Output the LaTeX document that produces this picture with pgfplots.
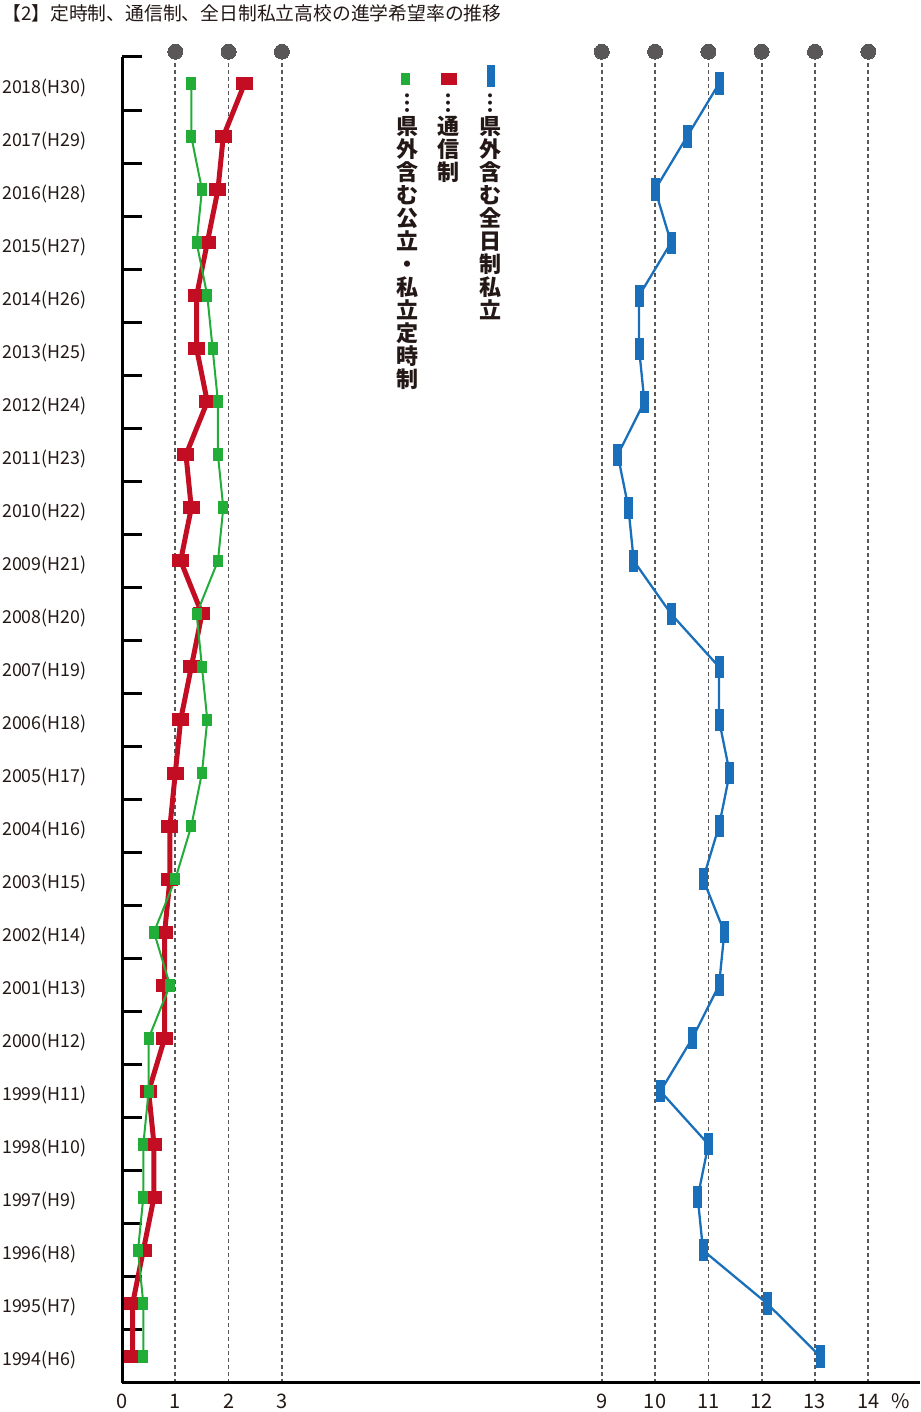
\documentclass[border=0pt]{standalone}
\usepackage{fontspec}
\setmainfont{Noto Sans CJK JP}
\usepackage{pgfplots}
\usepackage{pgfplotstable}
\pgfplotsset{compat=1.18}
\definecolor{cgreen}{HTML}{22AC38}
\definecolor{cred}{HTML}{C30D23}
\definecolor{cblue}{HTML}{1A6FBA}
\definecolor{cgray}{HTML}{595757}
\definecolor{ctext}{HTML}{231815}

\pgfplotstableread{
idx green red blue
0 0.4 0.2 13.1
1 0.4 0.2 12.1
2 0.3 0.4 10.9
3 0.4 0.6 10.8
4 0.4 0.6 11.0
5 0.5 0.5 10.1
6 0.5 0.8 10.7
7 0.9 0.8 11.2
8 0.6 0.8 11.3
9 1.0 0.9 10.9
10 1.3 0.9 11.2
11 1.5 1.0 11.4
12 1.6 1.1 11.2
13 1.5 1.3 11.2
14 1.4 1.5 10.3
15 1.8 1.1 9.6
16 1.9 1.3 9.5
17 1.8 1.2 9.3
18 1.8 1.6 9.8
19 1.7 1.4 9.7
20 1.6 1.4 9.7
21 1.4 1.6 10.3
22 1.5 1.8 10.0
23 1.3 1.9 10.6
24 1.3 2.3 11.2
}\datatable

\begin{document}
\begin{tikzpicture}
\useasboundingbox (0,0) rectangle (920pt,1412pt);
\begin{axis}[
  at={(122pt,29pt)}, anchor=south west,
  scale only axis, width=798pt, height=1326pt,
  xmin=0, xmax=14.97, ymin=-0.5, ymax=24.5,
  axis x line=bottom, axis y line=left,
  axis line style={-, line width=3pt, black},
  clip=false,
  tick align=inside,
  xtick={0,1,2,3,9,10,11,12,13,14},
  xticklabels={0,1,2,3,9,10,11,12,13,14},
  ytick={0,...,24},
  yticklabels={1994(H6),1995(H7),1996(H8),1997(H9),1998(H10),1999(H11),2000(H12),2001(H13),2002(H14),2003(H15),2004(H16),2005(H17),2006(H18),2007(H19),2008(H20),2009(H21),2010(H22),2011(H23),2012(H24),2013(H25),2014(H26),2015(H27),2016(H28),2017(H29),2018(H30)},
  minor ytick={0.5,1.5,...,24.5},
  major tick length=0pt,
  minor tick length=20pt,
  minor tick style={line width=3pt, black},
  xmajorgrids,
  major grid style={line width=1.7pt, cgray, dash pattern=on 4pt off 3pt},
  xticklabel style={font=\fontsize{20}{24}\selectfont, text=ctext, anchor=base, inner sep=0pt, yshift=-25pt},
  yticklabel style={font=\fontsize{17.8}{22}\selectfont, text=ctext, anchor=base west, inner sep=0pt, xshift=-120pt, yshift=-9.5pt},
]
\addplot[only marks, mark=*, mark size=7.5pt, cgray, mark options={draw=none, fill=cgray, line width=0pt}]
  coordinates {(1,24.6) (2,24.6) (3,24.6) (9,24.6) (10,24.6) (11,24.6) (12,24.6) (13,24.6) (14,24.6)};
\addplot[cblue, line width=2.3pt, line join=round, mark=square*, mark size=4pt,
  mark options={solid, draw=none, fill=cblue, line width=0pt, yscale=2.65}] table[x=blue, y=idx] {\datatable};
\addplot[cred, line width=5pt, line join=round, mark=square*, mark size=6pt,
  mark options={solid, draw=none, fill=cred, line width=0pt, xscale=1.33}] table[x=red, y=idx] {\datatable};
\addplot[cgreen, line width=2pt, line join=round, mark=square*, mark size=4.5pt,
  mark options={solid, draw=none, fill=cgreen, line width=0pt, yscale=1.3}] table[x=green, y=idx] {\datatable};
\node[font=\fontsize{20}{24}\selectfont, text=ctext, anchor=base, inner sep=0pt, yshift=-25pt] at (axis cs:14.6,-0.5) {\%};
\end{axis}
\node[anchor=west, inner sep=0pt, font=\fontsize{18.8}{21}\selectfont, text=ctext] at (2pt,1399pt) {【2】定時制、通信制、全日制私立高校の進学希望率の推移};
% legend keys
\fill[cgreen] (400.8pt,1327pt) rectangle ++(9pt,12pt);
\fill[cred] (441pt,1327pt) rectangle ++(16pt,12pt);
\fill[cblue] (486.5pt,1325pt) rectangle ++(8pt,22pt);
% legend texts (vertical)
\node[anchor=north, inner sep=0pt, align=center, font=\fontsize{22}{23}\selectfont\bfseries, text=ctext] at (407pt,1318pt) {︙\\県\\外\\含\\む\\公\\立\\・\\私\\立\\定\\時\\制};
\node[anchor=north, inner sep=0pt, align=center, font=\fontsize{22}{23}\selectfont\bfseries, text=ctext] at (448pt,1318pt) {︙\\通\\信\\制};
\node[anchor=north, inner sep=0pt, align=center, font=\fontsize{22}{23}\selectfont\bfseries, text=ctext] at (490pt,1318pt) {︙\\県\\外\\含\\む\\全\\日\\制\\私\\立};
\end{tikzpicture}
\end{document}
